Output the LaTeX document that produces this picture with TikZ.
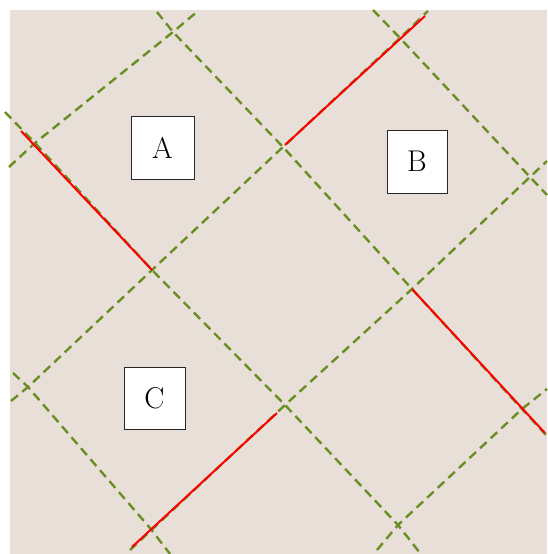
\documentclass[tikz,border=0pt]{standalone}
\definecolor{bgc}{RGB}{232,224,216}
\definecolor{gline}{RGB}{107,142,35}
\tikzset{
  gridline/.style={draw=gline, line width=2.4pt, dash pattern=on 9pt off 5.5pt},
  redseg/.style={draw=red, line width=2pt},
  lblbox/.style={draw=black!85, line width=1pt, fill=white, inner sep=0pt,
    minimum width=61pt, minimum height=63pt, font=\fontsize{30}{36}\selectfont},
}
\begin{document}
\begin{tikzpicture}[x=1pt,y=-1pt]
\useasboundingbox (0,0) rectangle (547,554);
\fill[bgc] (10,10) rectangle (547,554);
% lattice points
\coordinate (l0a) at (13,373);
\coordinate (p28) at (28,387);
\coordinate (p150) at (150,528);
\coordinate (l0b) at (170,554);
\coordinate (l1a) at (5,112);
\coordinate (p35) at (35,143);
\coordinate (p152) at (152,270);
\coordinate (p285) at (285,405);
\coordinate (p398) at (398,525);
\coordinate (l1b) at (420,553);
\coordinate (l2a) at (157,12);
\coordinate (p173) at (173,32);
\coordinate (p283) at (283,147);
\coordinate (p412) at (412,289);
\coordinate (p523) at (522,409);
\coordinate (l2b) at (547,436);
\coordinate (l3a) at (373,10);
\coordinate (p400) at (400,38);
\coordinate (p530) at (530,177);
\coordinate (l3b) at (547,195);
\coordinate (m1a) at (9,167);
\coordinate (m1b) at (198,11);
\coordinate (m2a) at (11,401);
\coordinate (m2b) at (428,11);
\coordinate (m3a) at (130,550);
\coordinate (m3b) at (547,161);
\coordinate (m4a) at (377,550);
\coordinate (m4b) at (547,389);
% red end points
\coordinate (r1a) at (21,131);
\coordinate (r2a) at (285,145);
\coordinate (r2b) at (425,16);
\coordinate (r3b) at (545,433);
\coordinate (r4a) at (132,547);
\coordinate (r4b) at (277,413);
% green dashed lines
\draw[gridline] (l0a) -- (p28) -- (p150) -- (l0b);
\draw[gridline] (l1a) -- (p35) -- (p152) -- (p285) -- (p398) -- (l1b);
\draw[gridline] (l2a) -- (p173) -- (p283) -- (p412) -- (p523) -- (l2b);
\draw[gridline] (l3a) -- (p400) -- (p530) -- (l3b);
\draw[gridline] (m1a) -- (p35) -- (p173) -- (m1b);
\draw[gridline] (m2a) -- (p28) -- (p152) -- (p283) -- (p400) -- (m2b);
\draw[gridline] (m3a) -- (p285) -- (p412) -- (p530) -- (m3b);
\draw[gridline] (m4a) -- (p398) -- (p523) -- (m4b);
% red segments
\draw[redseg] (r1a) -- (p152);
\draw[redseg] (r2a) -- (r2b);
\draw[redseg] (p412) -- (r3b);
\draw[redseg] (r4a) -- (r4b);
% boxes
\node[lblbox, minimum width=63pt] (A) at (162.5,147.5) {A};
\node[lblbox, minimum width=60pt] (B) at (417,161.5) {B};
\node[lblbox, minimum height=62pt] (C) at (154.5,398) {C};
\end{tikzpicture}
\end{document}
